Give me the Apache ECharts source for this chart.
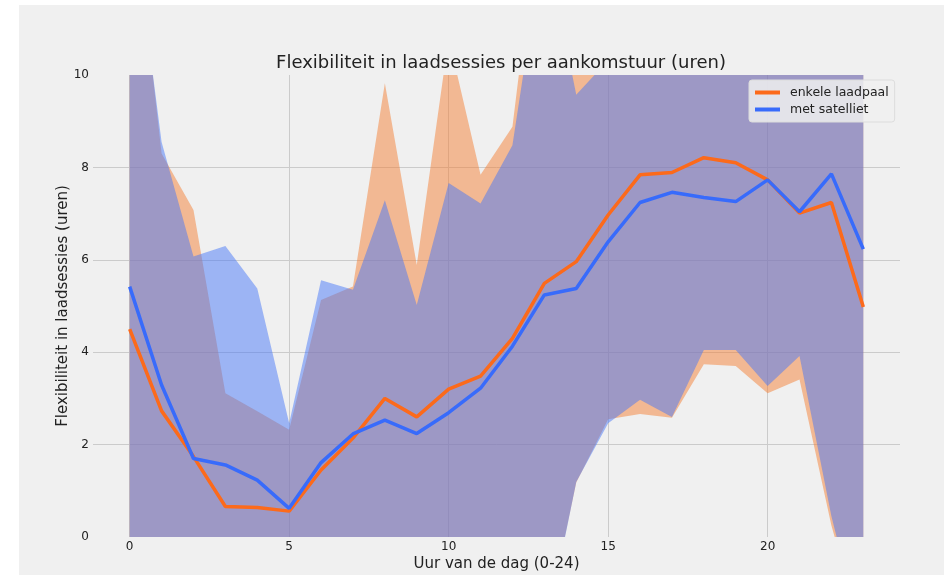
<!DOCTYPE html>
<html>
<head>
<meta charset="utf-8">
<script src="https://cdn.jsdelivr.net/npm/echarts@6/dist/echarts.min.js"></script>
<style>
  html, body { margin: 0; padding: 0; background: #fff; }
  .fig-bg { position: absolute; left: 19px; top: 5px; right: 0; bottom: 0; background: #f0f0f0; }
  #chart { position: absolute; left: 0; top: 0; width: 944px; height: 575px; }
</style>
</head>
<body>
<div class="fig-bg"></div>
<div id="chart"></div>
<script>
// uur van aankomst
const hours = [0, 1, 2, 3, 4, 5, 6, 7, 8, 9, 10, 11, 12, 13, 14, 15, 16, 17, 18, 19, 20, 21, 22, 23]

// enkele laadpaal: gemiddelde en band (boven / onder)
const orangeMean = [4.50, 2.73, 1.74, 0.66, 0.64, 0.56, 1.45, 2.14, 3.00, 2.60, 3.20, 3.48, 4.30, 5.49, 5.96, 6.97, 7.84, 7.89, 8.21, 8.10, 7.73, 7.01, 7.24, 4.98]
const orangeUpper = [14.4, 8.30, 7.08, 3.11, 2.72, 2.32, 5.13, 5.42, 9.82, 5.89, 10.8, 7.84, 8.88, 14.5, 10.74, 11.39, 13.02, 13.2, 12.68, 12.5, 12.35, 10.61, 14.23, 12.16]
const orangeLower = [-5.4, -2.84, -3.60, -1.79, -1.44, -1.20, -2.23, -1.14, -3.82, -0.69, -4.40, -0.88, -0.28, -2.1, 1.18, 2.55, 2.66, 2.58, 3.74, 3.70, 3.11, 3.41, 0.25, -2.20]

// met satelliet
const blueMean = [5.42, 3.29, 1.70, 1.56, 1.23, 0.62, 1.61, 2.23, 2.53, 2.24, 2.69, 3.22, 4.13, 5.24, 5.38, 6.39, 7.24, 7.46, 7.35, 7.26, 7.73, 7.04, 7.86, 6.23]
const blueUpper = [13.9, 8.55, 6.07, 6.30, 5.38, 2.46, 5.56, 5.35, 7.29, 5.02, 7.66, 7.22, 8.48, 13.0, 9.57, 10.32, 11.51, 12.32, 10.65, 10.47, 12.19, 10.16, 15.27, 14.74]
const blueLower = [-3.06, -1.97, -2.67, -3.18, -2.92, -1.22, -2.34, -0.89, -2.23, -0.54, -2.28, -0.78, -0.22, -2.2, 1.19, 2.46, 2.97, 2.60, 4.05, 4.05, 3.27, 3.92, 0.45, -2.28]

const ORANGE = '#fc6a1b'
const BLUE = '#386bfb'
const FONT = 'DejaVu Sans'

const pairs = (ys) => hours.map((h, i) => [h, ys[i]])

// band tussen onder- en bovenrand als één polygoon, via de assen van de grafiek
const band = (lo, hi, color) => ({
  type: 'custom',
  silent: true,
  clip: true,
  data: hours.map((h, i) => [h, lo[i], hi[i]]),
  encode: { x: 0, y: [1, 2] },
  renderItem: (params, api) => {
    if (params.dataIndex !== 0) return
    const top = hours.map((h, i) => api.coord([h, hi[i]]))
    const bottom = hours.map((h, i) => api.coord([h, lo[i]])).reverse()
    return {
      type: 'polygon',
      shape: { points: top.concat(bottom) },
      style: { fill: color, opacity: 0.5 }
    }
  }
})

const chart = echarts.init(document.getElementById('chart'))

chart.setOption({
  animation: false,
  backgroundColor: 'transparent',
  textStyle: { fontFamily: FONT },
  title: {
    text: 'Flexibiliteit in laadsessies per aankomstuur (uren)',
    left: 496,
    top: 49,
    textAlign: 'center',
    textStyle: { fontFamily: FONT, fontSize: 18, fontWeight: 'normal', color: '#222' }
  },
  legend: {
    orient: 'vertical',
    left: 749,
    top: 80,
    padding: [6, 6, 6, 6],
    itemGap: 4,
    itemWidth: 25,
    itemHeight: 4,
    icon: 'rect',
    backgroundColor: 'rgba(240,240,240,0.85)',
    borderColor: '#dcdcdc',
    borderWidth: 1,
    borderRadius: 3,
    textStyle: { fontFamily: FONT, fontSize: 12.5, color: '#222', padding: [0, 0, 0, 5] },
    data: ['enkele laadpaal', 'met satelliet']
  },
  grid: { left: 93, top: 75, width: 807, height: 462, outerBoundsMode: 'none' },
  xAxis: {
    type: 'value',
    min: -1.15,
    max: 24.15,
    minInterval: 5,
    maxInterval: 5,
    splitNumber: 5,
    name: 'Uur van de dag (0-24)',
    nameLocation: 'middle',
    nameGap: 20,
    nameMoveOverlap: false,
    nameTextStyle: { fontFamily: FONT, fontSize: 15, color: '#222' },
    axisLine: { show: false },
    axisTick: { show: false },
    axisLabel: { showMinLabel: false, showMaxLabel: false, margin: 4, fontFamily: FONT, fontSize: 12, color: '#222' },
    splitLine: { show: true, showMinLine: false, showMaxLine: false, lineStyle: { color: '#cbcbcb', width: 1 } }
  },
  yAxis: {
    type: 'value',
    min: 0,
    max: 10,
    interval: 2,
    name: 'Flexibiliteit in laadsessies (uren)',
    nameLocation: 'middle',
    nameGap: 22,
    nameMoveOverlap: false,
    nameTextStyle: { fontFamily: FONT, fontSize: 15, color: '#222' },
    axisLine: { show: false },
    axisTick: { show: false },
    axisLabel: { margin: 4, fontFamily: FONT, fontSize: 12, color: '#222' },
    splitLine: { show: true, showMinLine: false, showMaxLine: false, lineStyle: { color: '#cbcbcb', width: 1 } }
  },
  series: [
    band(orangeLower, orangeUpper, '#f48036'),
    band(blueLower, blueUpper, '#4878f8'),
    {
      name: 'enkele laadpaal', type: 'line', symbol: 'none', z: 5,
      lineStyle: { color: ORANGE, width: 3.5 }, itemStyle: { color: ORANGE },
      data: pairs(orangeMean)
    },
    {
      name: 'met satelliet', type: 'line', symbol: 'none', z: 5,
      lineStyle: { color: BLUE, width: 3.5 }, itemStyle: { color: BLUE },
      data: pairs(blueMean)
    }
  ]
})
</script>
</body>
</html>
